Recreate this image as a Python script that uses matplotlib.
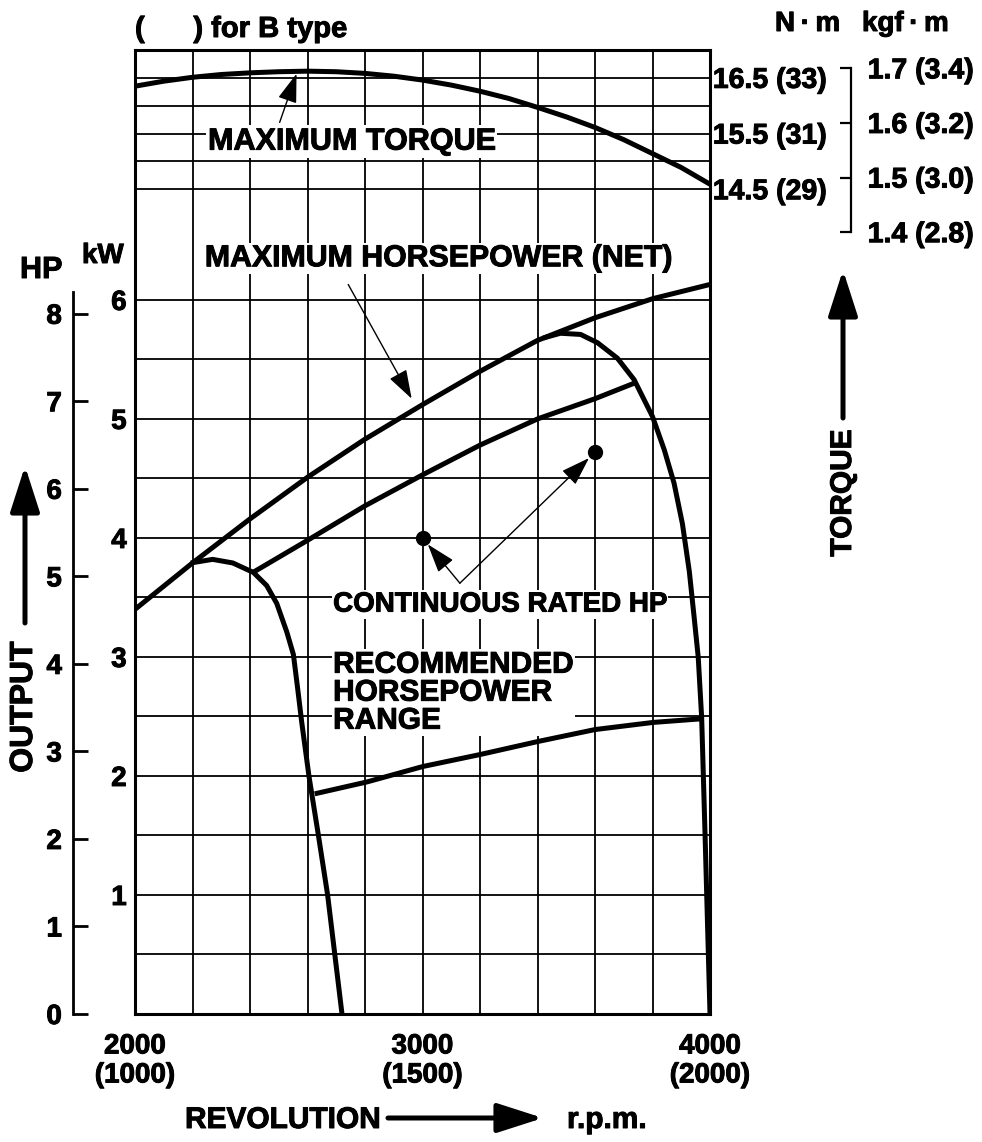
#!/usr/bin/env python3
"""Engine performance curve: output and torque versus revolution."""

import matplotlib

matplotlib.use("Agg")
import matplotlib.patheffects as pe  # noqa: E402
import matplotlib.pyplot as plt  # noqa: E402
from matplotlib.patches import FancyArrowPatch  # noqa: E402
from matplotlib.text import Text  # noqa: E402
import numpy as np  # noqa: E402

W, H = 982, 1142

plt.rcParams.update(
    {
        "font.family": ["Liberation Sans", "DejaVu Sans"],
        "font.weight": "bold",
        "font.size": 20,
        "axes.linewidth": 2.2,
        "figure.facecolor": "white",
    }
)

# --- data --------------------------------------------------------------
RPM_TORQUE = [2000, 2100, 2200, 2300, 2400, 2500, 2600, 2700, 2800, 2900, 3000,
              3100, 3200, 3300, 3400, 3500, 3600, 3700, 3800, 3900, 4000]
TORQUE_NM = [16.35, 16.44, 16.51, 16.56, 16.59, 16.61, 16.62, 16.61, 16.58, 16.53, 16.46,
             16.37, 16.26, 16.13, 15.97, 15.80, 15.61, 15.39, 15.14, 14.89, 14.59]

RPM_MAX_HP = [2000, 2200, 2400, 2600, 2800, 3000, 3200, 3400, 3600, 3800, 4000]
KW_MAX_HP = [3.40, 3.79, 4.16, 4.51, 4.83, 5.12, 5.40, 5.66, 5.85, 6.01, 6.13]

RPM_CONT = [2410, 2600, 2800, 3000, 3200, 3400, 3600, 3736]
KW_CONT = [3.71, 3.98, 4.27, 4.53, 4.78, 5.00, 5.17, 5.30]

RPM_RANGE_LEFT = [2194, 2270, 2340, 2412, 2458, 2493, 2528, 2551, 2565, 2580,
                  2605, 2638, 2670, 2695, 2720]
KW_RANGE_LEFT = [3.79, 3.82, 3.79, 3.71, 3.60, 3.45, 3.21, 3.02, 2.75, 2.45,
                 2.00, 1.50, 1.00, 0.50, 0.0]

RPM_RANGE_RIGHT = [3420, 3480, 3550, 3609, 3678, 3736, 3800, 3841, 3875, 3904,
                   3928, 3945, 3959, 3971, 3983, 4000]
KW_RANGE_RIGHT = [5.68, 5.72, 5.71, 5.64, 5.51, 5.33, 5.02, 4.74, 4.46, 4.12,
                  3.72, 3.33, 3.00, 2.49, 1.49, 0.0]

RPM_RANGE_LOW = [2625, 2807, 3002, 3200, 3402, 3600, 3802, 3968]
KW_RANGE_LOW = [1.85, 1.95, 2.08, 2.18, 2.29, 2.39, 2.45, 2.48]

RPM_RATED = [3000, 3600]
KW_RATED = [4.00, 4.72]

X_TICKS = [2000, 3000, 4000]
X_LABELS = ["2000\n(1000)", "3000\n(1500)", "4000\n(2000)"]
X_GRID = [2200, 2400, 2600, 2800, 3200, 3400, 3600, 3800]
KW_TICKS = [1, 2, 3, 4, 5, 6]
KW_HALF = [0.5, 1.5, 2.5, 3.5, 4.5, 5.5]
HP_TICKS = [0, 1, 2, 3, 4, 5, 6, 7, 8]
TQ_GRID = [14.5, 15.0, 15.5, 16.0, 16.5]
TQ_TICKS = [14.5, 15.5, 16.5]
TQ_LABELS = ["14.5 (29)", "15.5 (31)", "16.5 (33)"]
KGF_TICKS = [1.4, 1.5, 1.6, 1.7]
KGF_LABELS = ["1.4 (2.8)", "1.5 (3.0)", "1.6 (3.2)", "1.7 (3.4)"]

# --- scale relations ----------------------------------------------------
KW_TOP = 8.10
TQ_TOP = 17.0
KW_AT_TQ_REF = 6.93  # where 14.5 N·m sits on the kW scale
TQ_REF = 14.5
KW_PER_NM = (KW_TOP - KW_AT_TQ_REF) / (TQ_TOP - TQ_REF)
KW_PER_PS = 0.7355
NM_PER_KGFM = 9.80665


def tq_to_kw(t):
    return KW_AT_TQ_REF + (np.asarray(t, dtype=float) - TQ_REF) * KW_PER_NM


def kw_to_tq(k):
    return TQ_REF + (np.asarray(k, dtype=float) - KW_AT_TQ_REF) / KW_PER_NM


def kw_to_hp(k):
    return np.asarray(k, dtype=float) / KW_PER_PS


def hp_to_kw(h):
    return np.asarray(h, dtype=float) * KW_PER_PS


def kw_to_kgf(k):
    return kw_to_tq(k) / NM_PER_KGFM


def kgf_to_kw(g):
    return tq_to_kw(np.asarray(g, dtype=float) * NM_PER_KGFM)


def fx(px):
    return px / W


def fy(py):
    return 1 - py / H


fig = plt.figure(figsize=(W / 100, H / 100), dpi=100)
ax = fig.add_axes([fx(135), fy(1014), (710 - 135) / W, (1014 - 50) / H])
ax.set_xlim(2000, 4000)
ax.set_ylim(0, KW_TOP)

# grid
ax.set_xticks(X_TICKS, X_LABELS, linespacing=1.15)
ax.set_xticks(X_GRID, minor=True)
ax.set_yticks(KW_TICKS)
ax.set_yticks(KW_HALF, minor=True)
ax.tick_params(which="both", length=0)
ax.tick_params(axis="x", pad=14)
ax.tick_params(axis="y", pad=6)
ax.grid(which="both", color="black", linewidth=1.3, zorder=1)
ax.set_axisbelow(True)
ax.hlines(tq_to_kw(TQ_GRID), 2000, 4000, color="black", linewidth=1.3, zorder=1)

curve = dict(color="black", linewidth=3.6, solid_joinstyle="round",
             solid_capstyle="butt", zorder=4)
ax.plot(RPM_TORQUE, tq_to_kw(TORQUE_NM), **curve)
ax.plot(RPM_MAX_HP, KW_MAX_HP, **curve)
ax.plot(RPM_CONT, KW_CONT, **curve)
ax.plot(RPM_RANGE_LEFT, KW_RANGE_LEFT, **curve)
ax.plot(RPM_RANGE_RIGHT, KW_RANGE_RIGHT, **curve)
ax.plot(RPM_RANGE_LOW, KW_RANGE_LOW, **curve)
ax.plot(RPM_RATED, KW_RATED, "o", color="black", markersize=10, zorder=5)

# secondary scales
tq_ax = ax.secondary_yaxis("right", functions=(kw_to_tq, tq_to_kw))
tq_ax.set_yticks(TQ_TICKS, TQ_LABELS, fontsize=20.5)
tq_ax.tick_params(length=0, pad=2)
tq_ax.spines["right"].set_visible(False)

hp_ax = ax.secondary_yaxis((73 - 135) / 575, functions=(kw_to_hp, hp_to_kw))
hp_ax.set_yticks(HP_TICKS)
hp_ax.tick_params(direction="in", length=10.5, width=2, pad=8)
hp_ax.spines["left"].set_linewidth(2)
hp_ax.spines["left"].set_bounds(0, 8.25)

kgf_ax = ax.secondary_yaxis((851 - 135) / 575, functions=(kw_to_kgf, kgf_to_kw))
kgf_ax.set_yticks(KGF_TICKS, KGF_LABELS, fontsize=20.5)
kgf_ax.tick_params(direction="in", length=8, width=1.6, pad=12)
kgf_ax.spines["right"].set_linewidth(1.6)
kgf_ax.spines["right"].set_bounds(1.4, 1.7)

# annotations inside the chart
box = dict(facecolor="white", edgecolor="none", pad=1.0)
thin = dict(arrowstyle="-|>,head_length=0.9,head_width=0.3", color="black",
            lw=1.0, mutation_scale=20)
ax.text(2254, 7.33, "MAXIMUM TORQUE", ha="left", va="center", fontsize=22,
        bbox=box, zorder=3)
ax.annotate("", xy=(2565, tq_to_kw(16.62)), xytext=(2500, 7.47),
            arrowprops=thin, zorder=6)

ax.text(2243, 6.35, "MAXIMUM HORSEPOWER (NET)", ha="left", va="center",
        fontsize=21.8, bbox=box, zorder=3)
ax.annotate("", xy=(2967, 5.15), xytext=(2737, 6.15), arrowprops=thin, zorder=6)

ax.text(2689, 3.44, "CONTINUOUS RATED HP", ha="left", va="center", fontsize=20,
        bbox=box, zorder=3)
for rpm, kw in zip(RPM_RATED, KW_RATED):
    ax.annotate("", xy=(rpm, kw), xytext=(3130, 3.62),
                arrowprops=dict(thin, shrinkA=0, shrinkB=6), zorder=6)

ax.text(2689, 2.70, "RECOMMENDED\nHORSEPOWER\nRANGE", ha="left", va="center",
        fontsize=21.5, linespacing=1.0, bbox=box, zorder=3)

# labels around the chart
fig.text(fx(135), fy(37), "(      ) for B type", ha="left", va="baseline",
         fontsize=21)
fig.text(fx(775), fy(31), "N\u2009·\u2009m", ha="left", va="baseline")
fig.text(fx(862), fy(31), "kgf\u2009·\u2009m", ha="left", va="baseline")
fig.text(fx(20), fy(278), "HP", ha="left", va="baseline", fontsize=22)
fig.text(fx(82), fy(263), "kW", ha="left", va="baseline")
fig.text(fx(185), fy(1128), "REVOLUTION", ha="left", va="baseline", fontsize=21.5)
fig.text(fx(567), fy(1128), "r.p.m.", ha="left", va="baseline", fontsize=21.5)
fig.text(fx(24), fy(707), "OUTPUT", rotation=90, ha="center", va="center",
         fontsize=23)
fig.text(fx(843), fy(493), "TORQUE", rotation=90, ha="center", va="center",
         fontsize=21.5)

thick = dict(arrowstyle="-|>,head_length=1.4,head_width=0.45", color="black",
             lw=3.6, mutation_scale=20, shrinkA=0, shrinkB=0)
fig.add_artist(FancyArrowPatch((fx(388), fy(1118)), (fx(543), fy(1118)),
                               transform=fig.transFigure, **thick))
fig.add_artist(FancyArrowPatch((fx(25), fy(623)), (fx(25), fy(466)),
                               transform=fig.transFigure, **thick))
fig.add_artist(FancyArrowPatch((fx(843), fy(418)), (fx(843), fy(270)),
                               transform=fig.transFigure, **thick))

# the printed lettering is heavier than the bold face; thicken it a little
fig.canvas.draw()
for text in fig.findobj(Text):
    if text.get_text():
        text.set_path_effects([pe.withStroke(linewidth=0.7, foreground="black")])

fig.savefig("out.png", dpi=100)
